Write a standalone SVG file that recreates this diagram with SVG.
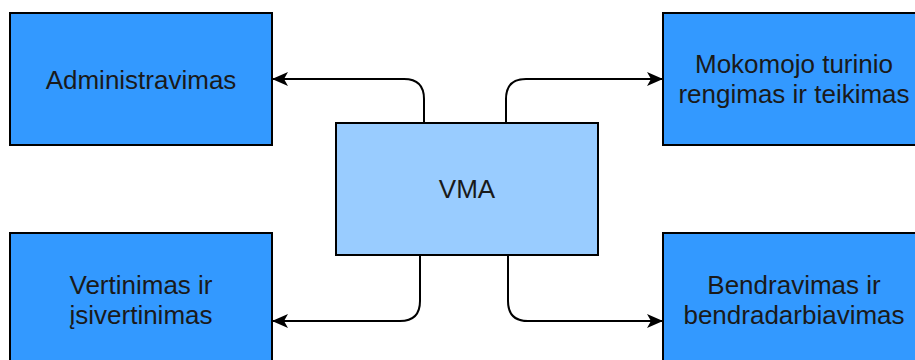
<svg xmlns="http://www.w3.org/2000/svg" width="915" height="360" viewBox="0 0 915 360">
<style>
.box{fill:#3399FF;stroke:#000;stroke-width:2}
.center{fill:#99CCFF;stroke:#000;stroke-width:2}
.lbl{font-family:"Liberation Sans",Arial,sans-serif;font-size:26px;fill:#1a1a1a;text-anchor:middle}
.conn{fill:none;stroke:#000;stroke-width:2}
</style>
<defs>
<marker id="arr" viewBox="0 0 16 16" refX="15" refY="8" markerWidth="16" markerHeight="16" markerUnits="userSpaceOnUse" orient="auto">
<path d="M0,1 L16,8 L0,15 L4,8 Z" fill="#000"/>
</marker>
</defs>
<rect width="915" height="360" fill="#fff"/>
<g id="connectors">
<path class="conn" d="M424,123 V99 Q424,79 404,79 H273" marker-end="url(#arr)"/>
<path class="conn" d="M506,123 V99 Q506,79 526,79 H662" marker-end="url(#arr)"/>
<path class="conn" d="M420,255 V301 Q420,321 400,321 H273" marker-end="url(#arr)"/>
<path class="conn" d="M508,255 V301 Q508,321 528,321 H662" marker-end="url(#arr)"/>
</g>
<g id="node-admin">
<rect class="box" x="10" y="13" width="262" height="132"/>
<text class="lbl" x="141" y="89">Administravimas</text>
</g>
<g id="node-mokomojo">
<rect class="box" x="663" y="13" width="262" height="132"/>
<text class="lbl" x="794" y="73">Mokomojo turinio</text>
<text class="lbl" x="794" y="103">rengimas ir teikimas</text>
</g>
<g id="node-vma">
<rect class="center" x="336" y="123" width="262" height="132"/>
<text class="lbl" x="467" y="198">VMA</text>
</g>
<g id="node-vertinimas">
<rect class="box" x="10" y="233" width="262" height="132"/>
<text class="lbl" x="141" y="294">Vertinimas ir</text>
<text class="lbl" x="141" y="324">įsivertinimas</text>
</g>
<g id="node-bendravimas">
<rect class="box" x="663" y="233" width="262" height="132"/>
<text class="lbl" x="794" y="294">Bendravimas ir</text>
<text class="lbl" x="794" y="324">bendradarbiavimas</text>
</g>
</svg>
